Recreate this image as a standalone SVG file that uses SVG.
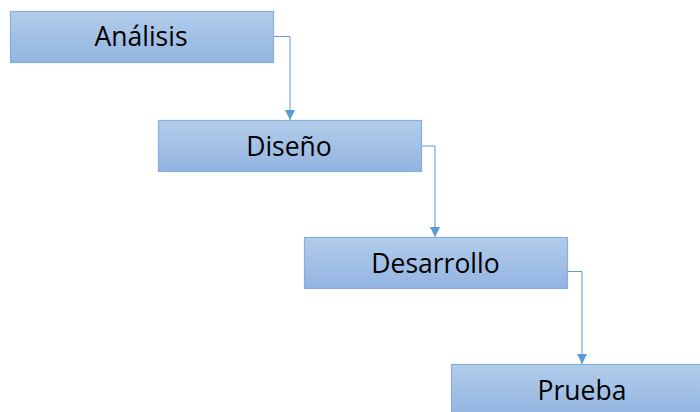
<svg xmlns="http://www.w3.org/2000/svg" width="700" height="412" viewBox="0 0 700 412">
  <defs>
    <linearGradient id="boxFill" x1="0" y1="0" x2="0" y2="1">
      <stop offset="0" stop-color="#b3cdea"/>
      <stop offset="1" stop-color="#92b4e1"/>
    </linearGradient>
    <marker id="arrow" viewBox="0 0 10 10" refX="10" refY="5" markerWidth="10" markerHeight="10" markerUnits="userSpaceOnUse" orient="auto">
      <path d="M0,0 L10,5 L0,10 Z" fill="#5b9bd5"/>
    </marker>
    <style>
      .box { fill: url(#boxFill); stroke: #88aede; stroke-width: 1.2; }
      .label { font-family: "Open Sans", "Liberation Sans", sans-serif; font-size: 26.5px; fill: #000; text-anchor: middle; }
      .link { fill: none; stroke: #5b9bd5; stroke-width: 1; marker-end: url(#arrow); }
    </style>
  </defs>

  <g id="connectors">
    <path class="link" d="M273,36.5 H290 V120"/>
    <path class="link" d="M421,146 H435 V237"/>
    <path class="link" d="M567,271.5 H582 V364"/>
  </g>

  <g id="analisis">
    <rect class="box" x="10.5" y="11.5" width="263" height="51"/>
    <text class="label" x="141" y="46">Análisis</text>
  </g>

  <g id="diseno">
    <rect class="box" x="158.5" y="120.5" width="263" height="51"/>
    <text class="label" x="289" y="156">Diseño</text>
  </g>

  <g id="desarrollo">
    <rect class="box" x="304.5" y="237.5" width="263" height="51"/>
    <text class="label" x="435.5" y="273">Desarrollo</text>
  </g>

  <g id="prueba">
    <rect class="box" x="451.5" y="364.5" width="263" height="51"/>
    <text class="label" x="582" y="400">Prueba</text>
  </g>
</svg>
